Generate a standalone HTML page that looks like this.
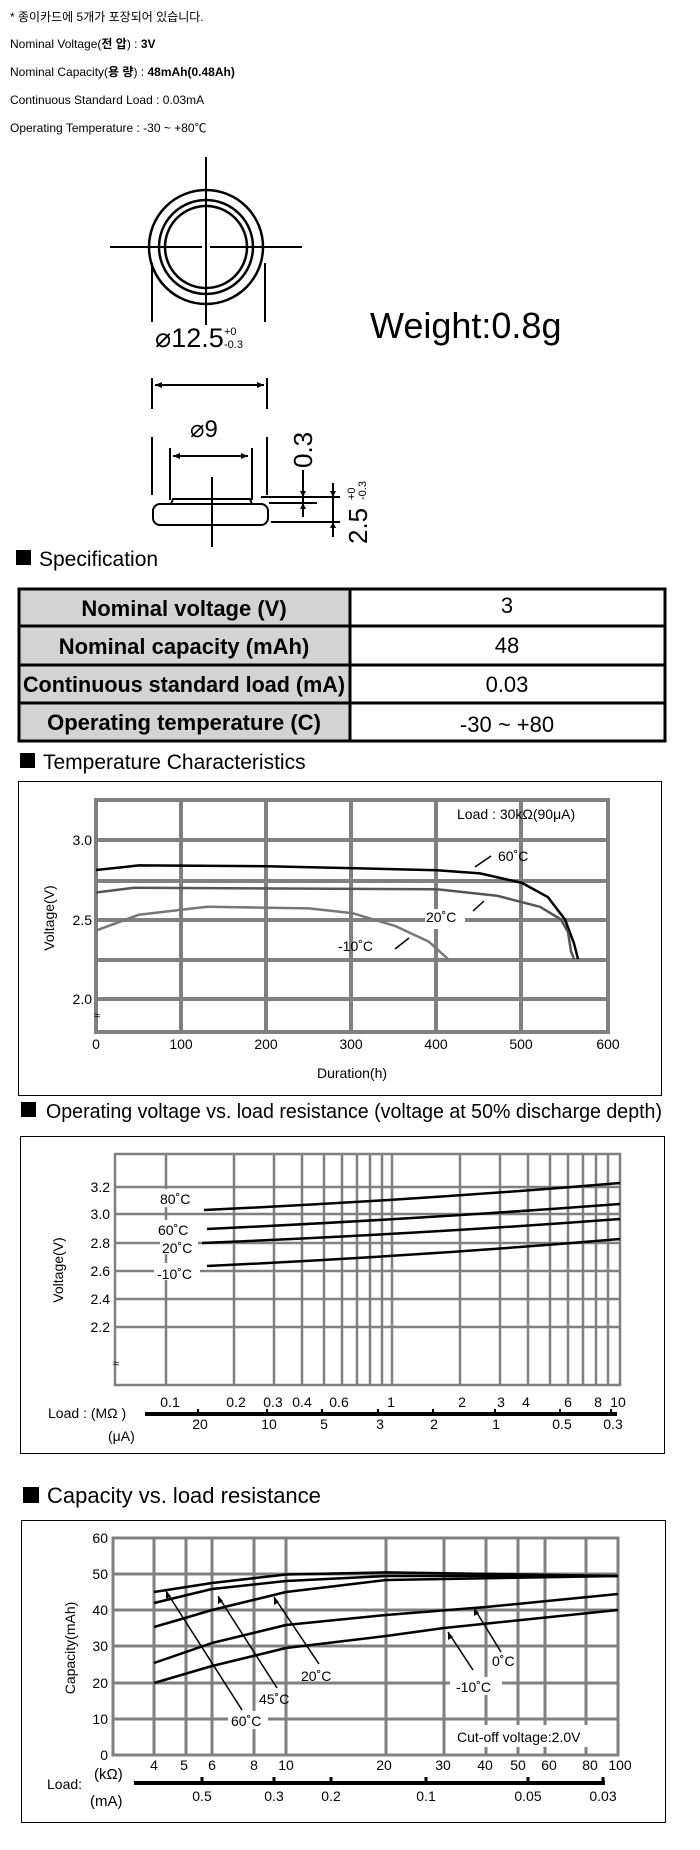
<!DOCTYPE html>
<html><head><meta charset="utf-8"><style>
html,body{margin:0;padding:0;background:#fff;}
svg{display:block;}
text{font-family:"Liberation Sans","Noto Sans CJK KR",sans-serif;}
</style></head><body>
<svg width="700" height="1850" viewBox="0 0 700 1850" xmlns="http://www.w3.org/2000/svg">
<!-- top text -->
<g font-size="12" fill="#000">
<text x="10" y="21">* 종이카드에 5개가 포장되어 있습니다.</text>
<text x="10" y="48">Nominal Voltage(<tspan font-weight="bold">전 압</tspan>) : <tspan font-weight="bold">3V</tspan></text>
<text x="10" y="76">Nominal Capacity(<tspan font-weight="bold">용 량</tspan>) : <tspan font-weight="bold">48mAh(0.48Ah)</tspan></text>
<text x="10" y="104">Continuous Standard Load : 0.03mA</text>
<text x="10" y="132">Operating Temperature : -30 ~ +80℃</text>
</g>
<!-- top view -->
<g stroke="#000" fill="none">
<circle cx="206" cy="247" r="57" stroke-width="2.5"/>
<circle cx="206" cy="247" r="47" stroke-width="2.5"/>
<circle cx="206" cy="247" r="41" stroke-width="2.5"/>
<line x1="110" y1="247" x2="302" y2="247" stroke-width="2"/>
<line x1="206" y1="157" x2="206" y2="325" stroke-width="2"/>
<line x1="152" y1="263" x2="152" y2="322" stroke-width="2"/>
<line x1="265" y1="263" x2="265" y2="322" stroke-width="2"/>
</g>
<rect x="202" y="245" width="8" height="4" fill="#fff"/>
<line x1="206" y1="243" x2="206" y2="251" stroke="#000" stroke-width="2"/>
<text x="155" y="347" font-size="27">⌀12.5</text>
<text x="224" y="335" font-size="11">+0</text>
<text x="224" y="348" font-size="11">-0.3</text>
<text x="370" y="338" font-size="36">Weight:0.8g</text>
<!-- side view -->
<g stroke="#000" fill="none" stroke-width="2">
<line x1="152" y1="378" x2="152" y2="409"/>
<line x1="267" y1="378" x2="267" y2="409"/>
<line x1="155" y1="385" x2="264" y2="385"/>
<line x1="152" y1="437" x2="152" y2="495"/>
<line x1="267" y1="437" x2="267" y2="495"/>
<line x1="170" y1="448" x2="170" y2="500"/>
<line x1="252" y1="448" x2="252" y2="500"/>
<line x1="173" y1="456" x2="248" y2="456"/>
<rect x="153" y="504" width="115" height="21" rx="7"/>
<path d="M171 504 L173 499 L250 499 L252 504"/>
<line x1="212" y1="477" x2="212" y2="547"/>
<line x1="261" y1="497" x2="340" y2="497"/>
<line x1="269" y1="503" x2="317" y2="503"/>
<line x1="271" y1="522" x2="340" y2="522"/>
<line x1="303" y1="470" x2="303" y2="517"/>
<line x1="333" y1="483" x2="333" y2="537"/>
</g>
<g fill="#000">
<path d="M155 385 l7 -3 v6z M264 385 l-7 -3 v6z M173 456 l7 -3 v6z M248 456 l-7 -3 v6z"/>
<path d="M303 497 l-3 -6 h6z M303 503 l-3 6 h6z M333 497 l-3 -6 h6z M333 522 l-3 6 h6z"/>
</g>
<text x="190" y="437" font-size="24">⌀9</text>
<text transform="translate(312,468) rotate(-90)" font-size="26">0.3</text>
<text transform="translate(367,544) rotate(-90)" font-size="26">2.5</text>
<text transform="translate(355,500) rotate(-90)" font-size="11">+0</text>
<text transform="translate(366,500) rotate(-90)" font-size="11">-0.3</text>
<!-- Specification -->
<rect x="16" y="550" width="15" height="15" fill="#000"/>
<text x="39" y="566" font-size="21">Specification</text>
<g stroke="#000" stroke-width="3">
<rect x="19" y="589" width="331" height="37" fill="#d3d3d3"/>
<rect x="19" y="626" width="331" height="39" fill="#d3d3d3"/>
<rect x="19" y="665" width="331" height="38" fill="#d3d3d3"/>
<rect x="19" y="703" width="331" height="38" fill="#d3d3d3"/>
<rect x="350" y="589" width="315" height="37" fill="#fff"/>
<rect x="350" y="626" width="315" height="39" fill="#fff"/>
<rect x="350" y="665" width="315" height="38" fill="#fff"/>
<rect x="350" y="703" width="315" height="38" fill="#fff"/>
</g>
<g font-size="22" text-anchor="middle">
<text x="184" y="616" font-weight="bold">Nominal voltage (V)</text>
<text x="184" y="654" font-weight="bold">Nominal capacity (mAh)</text>
<text x="184" y="692" font-weight="bold" textLength="322" lengthAdjust="spacingAndGlyphs">Continuous standard load (mA)</text>
<text x="184" y="730" font-weight="bold">Operating temperature (C)</text>
<text x="507" y="613">3</text>
<text x="507" y="653">48</text>
<text x="507" y="692">0.03</text>
<text x="507" y="732">-30 ~ +80</text>
</g>
<!-- Temperature characteristics -->
<rect x="20" y="753" width="15" height="15" fill="#000"/>
<text x="43" y="769" font-size="21">Temperature Characteristics</text>
<rect x="18.5" y="781.5" width="643" height="314" fill="none" stroke="#000" stroke-width="1"/>
<g stroke="#808080" stroke-width="4" fill="none">
<rect x="96" y="800" width="512" height="232"/>
<line x1="181" y1="800" x2="181" y2="1032"/><line x1="266" y1="800" x2="266" y2="1032"/>
<line x1="351" y1="800" x2="351" y2="1032"/><line x1="436" y1="800" x2="436" y2="1032"/>
<line x1="521" y1="800" x2="521" y2="1032"/>
<line x1="96" y1="840" x2="608" y2="840"/><line x1="96" y1="881" x2="608" y2="881"/>
<line x1="96" y1="920" x2="608" y2="920"/><line x1="96" y1="960" x2="608" y2="960"/>
<line x1="96" y1="999" x2="608" y2="999"/>
</g>
<rect x="425" y="909" width="40" height="20" fill="#fff"/>
<g fill="none" stroke-width="2.5" stroke-linejoin="round">
<polyline stroke="#000" points="96,870 139,865.4 267,866.2 437,870.2 480,873.4 522,882.9 548,897.2 565,919.5 574,943.4 578,959"/>
<polyline stroke="#555" points="96,892.5 134,887.7 437,889.3 497,895.7 540,906.8 561,919.5 568,932.2 571,951.3 574,959"/>
<polyline stroke="#777" points="96,930.6 139,914.7 207,906.8 309,908.4 352,913.1 395,925.9 429,941.8 448,959"/>
</g>
<g stroke="#000" stroke-width="1.5">
<line x1="475" y1="867" x2="491" y2="856"/><line x1="473" y1="911" x2="484" y2="901"/><line x1="395" y1="949" x2="409" y2="938"/>
</g>
<g font-size="14">
<text x="498" y="861">60˚C</text>
<text x="426" y="922">20˚C</text>
<text x="338" y="951">-10˚C</text>
<text x="457" y="819">Load : 30kΩ(90μA)</text>
<text x="92" y="845" text-anchor="end">3.0</text>
<text x="92" y="925" text-anchor="end">2.5</text>
<text x="92" y="1004" text-anchor="end">2.0</text>
<text x="96" y="1049" text-anchor="middle">0</text>
<text x="181" y="1049" text-anchor="middle">100</text>
<text x="266" y="1049" text-anchor="middle">200</text>
<text x="351" y="1049" text-anchor="middle">300</text>
<text x="436" y="1049" text-anchor="middle">400</text>
<text x="521" y="1049" text-anchor="middle">500</text>
<text x="608" y="1049" text-anchor="middle">600</text>
<text x="352" y="1078" text-anchor="middle">Duration(h)</text>
<text transform="translate(54,918) rotate(-90)" text-anchor="middle">Voltage(V)</text>
</g>
<text x="94" y="1019" font-size="11">≈</text>
<!-- Operating voltage -->
<rect x="21" y="1102" width="15" height="15" fill="#000"/>
<text x="46" y="1118" font-size="20" textLength="616" lengthAdjust="spacingAndGlyphs">Operating voltage vs. load resistance (voltage at 50% discharge depth)</text>
<rect x="20.5" y="1136.5" width="644" height="317" fill="none" stroke="#000" stroke-width="1"/>
<g stroke="#808080" stroke-width="2.5" fill="none">
<rect x="115" y="1154" width="505" height="231"/>
<line x1="166" y1="1154" x2="166" y2="1385"/><line x1="234" y1="1154" x2="234" y2="1385"/>
<line x1="274" y1="1154" x2="274" y2="1385"/><line x1="302" y1="1154" x2="302" y2="1385"/>
<line x1="324" y1="1154" x2="324" y2="1385"/><line x1="342" y1="1154" x2="342" y2="1385"/>
<line x1="357" y1="1154" x2="357" y2="1385"/><line x1="370" y1="1154" x2="370" y2="1385"/>
<line x1="382" y1="1154" x2="382" y2="1385"/><line x1="392" y1="1154" x2="392" y2="1385"/>
<line x1="460" y1="1154" x2="460" y2="1385"/><line x1="500" y1="1154" x2="500" y2="1385"/>
<line x1="528" y1="1154" x2="528" y2="1385"/><line x1="550" y1="1154" x2="550" y2="1385"/>
<line x1="568" y1="1154" x2="568" y2="1385"/><line x1="583" y1="1154" x2="583" y2="1385"/>
<line x1="596" y1="1154" x2="596" y2="1385"/><line x1="608" y1="1154" x2="608" y2="1385"/>
<line x1="115" y1="1187" x2="620" y2="1187"/><line x1="115" y1="1214" x2="620" y2="1214"/>
<line x1="115" y1="1243" x2="620" y2="1243"/><line x1="115" y1="1271" x2="620" y2="1271"/>
<line x1="115" y1="1299" x2="620" y2="1299"/><line x1="115" y1="1327" x2="620" y2="1327"/>
</g>
<rect x="156" y="1189" width="42" height="18" fill="#fff"/>
<rect x="156" y="1220" width="42" height="17" fill="#fff"/>
<rect x="160" y="1237" width="38" height="17" fill="#fff"/>
<rect x="154" y="1263" width="46" height="17" fill="#fff"/>
<g stroke="#000" stroke-width="2.5" fill="none">
<path d="M204 1210 Q420 1200 620 1183"/>
<path d="M207 1229 Q420 1219 620 1204"/>
<path d="M202 1243 Q420 1234 620 1219"/>
<path d="M207 1266 Q420 1256 620 1239"/>
</g>
<g font-size="14">
<text x="160" y="1204">80˚C</text>
<text x="158" y="1235">60˚C</text>
<text x="162" y="1253">20˚C</text>
<text x="157" y="1279">-10˚C</text>
<text x="110" y="1192" text-anchor="end">3.2</text>
<text x="110" y="1219" text-anchor="end">3.0</text>
<text x="110" y="1248" text-anchor="end">2.8</text>
<text x="110" y="1276" text-anchor="end">2.6</text>
<text x="110" y="1304" text-anchor="end">2.4</text>
<text x="110" y="1332" text-anchor="end">2.2</text>
<text transform="translate(63,1270) rotate(-90)" text-anchor="middle">Voltage(V)</text>
<g text-anchor="middle">
<text x="170" y="1407">0.1</text><text x="236" y="1407">0.2</text><text x="273" y="1407">0.3</text>
<text x="302" y="1407">0.4</text><text x="339" y="1407">0.6</text><text x="391" y="1407">1</text>
<text x="462" y="1407">2</text><text x="501" y="1407">3</text><text x="526" y="1407">4</text>
<text x="568" y="1407">6</text><text x="598" y="1407">8</text><text x="618" y="1407">10</text>
<text x="200" y="1429">20</text><text x="269" y="1429">10</text><text x="324" y="1429">5</text>
<text x="380" y="1429">3</text><text x="434" y="1429">2</text><text x="496" y="1429">1</text>
<text x="562" y="1429">0.5</text><text x="613" y="1429">0.3</text>
</g>
<text x="48" y="1418">Load : (MΩ )</text>
<text x="108" y="1441">(μA)</text>
</g>
<text x="113" y="1367" font-size="11">≈</text>
<line x1="145" y1="1414" x2="617" y2="1414" stroke="#000" stroke-width="4"/>
<g stroke="#000" stroke-width="2">
<line x1="198" y1="1409" x2="198" y2="1416"/><line x1="267" y1="1409" x2="267" y2="1416"/>
<line x1="322" y1="1409" x2="322" y2="1416"/><line x1="378" y1="1409" x2="378" y2="1416"/>
<line x1="433" y1="1409" x2="433" y2="1416"/><line x1="495" y1="1409" x2="495" y2="1416"/>
<line x1="560" y1="1409" x2="560" y2="1416"/><line x1="611" y1="1409" x2="611" y2="1416"/>
</g>
<!-- Capacity -->
<rect x="23" y="1487" width="16" height="16" fill="#000"/>
<text x="47" y="1503" font-size="22">Capacity vs. load resistance</text>
<rect x="21.5" y="1520.5" width="644" height="302" fill="none" stroke="#000" stroke-width="1"/>
<g stroke="#808080" stroke-width="3" fill="none">
<rect x="113" y="1538" width="505" height="217"/>
<line x1="154" y1="1538" x2="154" y2="1755"/><line x1="186" y1="1538" x2="186" y2="1755"/>
<line x1="212" y1="1538" x2="212" y2="1755"/><line x1="254" y1="1538" x2="254" y2="1755"/>
<line x1="286" y1="1538" x2="286" y2="1755"/><line x1="386" y1="1538" x2="386" y2="1755"/>
<line x1="444" y1="1538" x2="444" y2="1755"/><line x1="486" y1="1538" x2="486" y2="1755"/>
<line x1="518" y1="1538" x2="518" y2="1755"/><line x1="545" y1="1538" x2="545" y2="1755"/>
<line x1="586" y1="1538" x2="586" y2="1755"/>
<line x1="113" y1="1574" x2="618" y2="1574"/><line x1="113" y1="1610" x2="618" y2="1610"/>
<line x1="113" y1="1646" x2="618" y2="1646"/><line x1="113" y1="1683" x2="618" y2="1683"/>
<line x1="113" y1="1719" x2="618" y2="1719"/>
</g>
<rect x="228" y="1711" width="40" height="18" fill="#fff"/>
<rect x="450" y="1677" width="52" height="18" fill="#fff"/>
<rect x="453" y="1725" width="156" height="22" fill="#fff"/>
<g stroke="#000" stroke-width="2.5" fill="none" stroke-linejoin="round">
<polyline points="154,1592 212,1583 286,1574.5 386,1572.4 618,1576"/>
<polyline points="154,1603 212,1589 286,1581 386,1576 618,1576"/>
<polyline points="154,1627 185,1618 212,1610 286,1592 386,1580 618,1576"/>
<polyline points="154,1663 212,1643 286,1625 386,1615 486,1607 618,1594"/>
<polyline points="154,1683 212,1666 286,1648 386,1636 444,1628 618,1610"/>
</g>
<g stroke="#000" stroke-width="1.5">
<line x1="242" y1="1710" x2="166" y2="1591"/><line x1="277" y1="1688" x2="218" y2="1596"/>
<line x1="319" y1="1664" x2="274" y2="1597"/><line x1="501" y1="1652" x2="474" y2="1608"/>
<line x1="473" y1="1670" x2="448" y2="1632"/>
</g>
<g fill="#000">
<path d="M166 1591 l0 8 l5 -3z M218 1596 l0 8 l5 -3z M274 1597 l0 8 l5 -3z M474 1608 l0 8 l5 -3z M448 1632 l0 8 l5 -3z"/>
</g>
<g font-size="14">
<text x="231" y="1726">60˚C</text>
<text x="259" y="1704">45˚C</text>
<text x="301" y="1681">20˚C</text>
<text x="492" y="1666">0˚C</text>
<text x="456" y="1692">-10˚C</text>
<text x="457" y="1742">Cut-off voltage:2.0V</text>
<g text-anchor="end">
<text x="108" y="1543">60</text><text x="108" y="1579">50</text><text x="108" y="1615">40</text>
<text x="108" y="1651">30</text><text x="108" y="1688">20</text><text x="108" y="1724">10</text>
<text x="108" y="1760">0</text>
</g>
<text transform="translate(75,1648) rotate(-90)" text-anchor="middle">Capacity(mAh)</text>
<g text-anchor="middle">
<text x="154" y="1770">4</text><text x="184" y="1770">5</text><text x="212" y="1770">6</text>
<text x="254" y="1770">8</text><text x="286" y="1770">10</text><text x="384" y="1770">20</text>
<text x="443" y="1770">30</text><text x="485" y="1770">40</text><text x="518" y="1770">50</text>
<text x="549" y="1770">60</text><text x="590" y="1770">80</text><text x="620" y="1770">100</text>
<text x="202" y="1801">0.5</text><text x="274" y="1801">0.3</text><text x="331" y="1801">0.2</text>
<text x="426" y="1801">0.1</text><text x="528" y="1801">0.05</text><text x="603" y="1801">0.03</text>
</g>
<text x="47" y="1789">Load:</text>
<text x="94" y="1779" font-size="15">(kΩ)</text>
<text x="90" y="1806" font-size="15">(mA)</text>
</g>
<line x1="134" y1="1783" x2="605" y2="1783" stroke="#000" stroke-width="4"/>
<g stroke="#000" stroke-width="3">
<line x1="202" y1="1777" x2="202" y2="1784"/><line x1="274" y1="1777" x2="274" y2="1784"/>
<line x1="331" y1="1777" x2="331" y2="1784"/><line x1="426" y1="1777" x2="426" y2="1784"/>
<line x1="528" y1="1777" x2="528" y2="1784"/><line x1="603" y1="1777" x2="603" y2="1784"/>
</g>
</svg>
</body></html>
